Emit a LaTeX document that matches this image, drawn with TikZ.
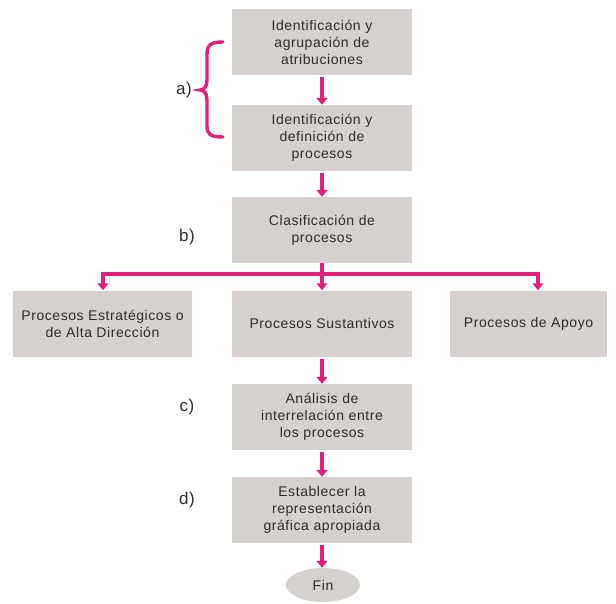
\documentclass[tikz,border=0pt]{standalone}
\usepackage{fontspec}
\setmainfont{Liberation Sans}[LetterSpace=4]
\usetikzlibrary{arrows.meta,shapes.geometric}
\definecolor{pinkc}{RGB}{226,32,120}
\definecolor{boxc}{RGB}{214,209,206}
\definecolor{txtc}{RGB}{45,45,45}
\tikzset{
  pbox/.style={rectangle, fill=boxc, draw=none, minimum height=66pt, inner sep=2pt,
    align=center, text=txtc, font=\fontsize{14pt}{17pt}\selectfont},
  cbox/.style={pbox, minimum width=180pt, text width=172pt},
  parrow/.style={draw=pinkc, line width=3.4pt, -{Triangle[width=11pt,length=7pt]}, shorten <=2pt},
  pline/.style={draw=pinkc, line width=3.4pt},
  lbl/.style={text=txtc, font=\fontsize{17pt}{19pt}\selectfont}
}
\begin{document}
\begin{tikzpicture}[x=1pt,y=-1pt]
\useasboundingbox (0,0) rectangle (616,603);
\node[cbox] (b1) at (322,42) {Identificación y\\agrupación de\\atribuciones};
\node[cbox] (b2) at (322,138) {Identificación y\\definición de\\procesos};
\node[cbox] (b3) at (322,230) {Clasificación de\\procesos};
\node[pbox, minimum width=179pt] (l) at (102.5,323.5) {Procesos Estratégicos o\\de Alta Dirección};
\node[cbox] (m) at (322,323.5) {Procesos Sustantivos};
\node[pbox, minimum width=157pt] (r) at (528.5,323.5) {Procesos de Apoyo};
\node[cbox] (c) at (322,417) {Análisis de\\interrelación entre\\los procesos};
\node[cbox] (d) at (322,510) {Establecer la\\representación\\gráfica apropiada};
\node[ellipse, fill=boxc, minimum width=74pt, minimum height=34pt, inner sep=0pt,
  text=txtc, font=\fontsize{14pt}{17pt}\selectfont] (fin) at (323,585) {Fin};

\node[lbl] (la) at (184,90) {a)};
\node[lbl] (lb) at (187,237) {b)};
\node[lbl] (lc) at (187,407) {c)};
\node[lbl] (ld) at (187,500) {d)};

\draw[pline, line cap=round] (223,42) .. controls (210,42) and (207,45) .. (207,55)
  -- (207,80) .. controls (207,87) and (204,90) .. (200,90)
  .. controls (204,90) and (207,93) .. (207,100)
  -- (207,126) .. controls (207,134) and (210,137) .. (223,137);

\draw[parrow] (b1.south) -- (b2.north);
\draw[parrow] (b2.south) -- (b3.north);
\coordinate (j) at (322,274);
\coordinate (jl) at (103,274);
\coordinate (jr) at (538,274);
\draw[pline] (b3.south) -- (j);
\draw[pline] (jl) -- (jr);
\draw[parrow, shorten <=-1.7pt] (jl) -- (jl |- l.north);
\draw[parrow, shorten <=0pt] (j) -- (m.north);
\draw[parrow, shorten <=-1.7pt] (jr) -- (jr |- r.north);
\draw[parrow] (m.south) -- (c.north);
\draw[parrow] (c.south) -- (d.north);
\draw[parrow] (d.south) -- (d.south |- fin.north);
\end{tikzpicture}
\end{document}
